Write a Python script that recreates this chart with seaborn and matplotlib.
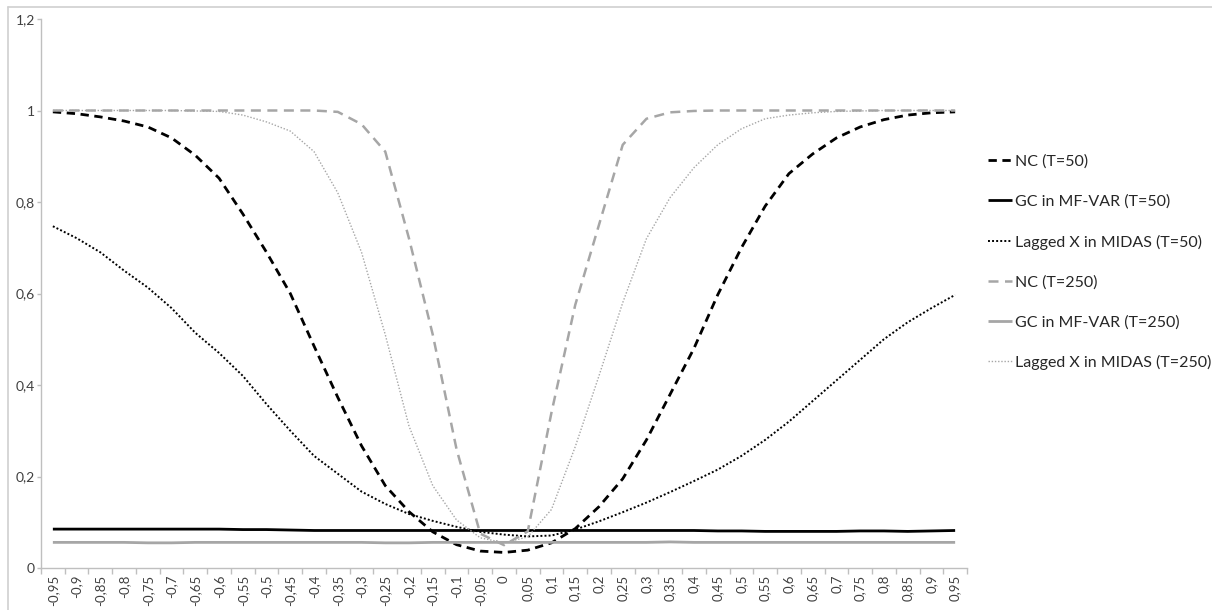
import numpy as np
import pandas as pd
import matplotlib
matplotlib.use('Agg')
from matplotlib import pyplot as plt
from matplotlib.lines import Line2D
from matplotlib.ticker import FixedLocator
import seaborn as sns

# Valeurs de rho (axe des x)
rho = [-0.95, -0.9, -0.85, -0.8, -0.75, -0.7, -0.65, -0.6, -0.55, -0.5,
       -0.45, -0.4, -0.35, -0.3, -0.25, -0.2, -0.15, -0.1, -0.05, 0.0,
       0.05, 0.1, 0.15, 0.2, 0.25, 0.3, 0.35, 0.4, 0.45, 0.5,
       0.55, 0.6, 0.65, 0.7, 0.75, 0.8, 0.85, 0.9, 0.95]

# Séries
nc_50 = [0.997, 0.993, 0.986, 0.977, 0.964, 0.94, 0.902, 0.852, 0.774, 0.69,
         0.60, 0.485, 0.373, 0.267, 0.18, 0.123, 0.079, 0.051, 0.037, 0.034,
         0.039, 0.055, 0.086, 0.134, 0.195, 0.28, 0.38, 0.48, 0.597, 0.70,
         0.791, 0.862, 0.905, 0.94, 0.964, 0.98, 0.99, 0.995, 0.997]
gc_50 = [0.085, 0.085, 0.085, 0.085, 0.085, 0.085, 0.085, 0.085, 0.084, 0.084,
         0.083, 0.082, 0.082, 0.082, 0.082, 0.082, 0.082, 0.082, 0.082, 0.082,
         0.082, 0.082, 0.082, 0.082, 0.082, 0.082, 0.082, 0.082, 0.081, 0.081,
         0.080, 0.080, 0.080, 0.080, 0.081, 0.081, 0.080, 0.081, 0.082]
midas_50 = [0.747, 0.721, 0.69, 0.65, 0.613, 0.568, 0.514, 0.47, 0.42, 0.358,
            0.30, 0.245, 0.206, 0.167, 0.14, 0.118, 0.103, 0.09, 0.079, 0.073,
            0.069, 0.071, 0.084, 0.102, 0.122, 0.143, 0.166, 0.19, 0.215, 0.245,
            0.28, 0.32, 0.365, 0.41, 0.455, 0.50, 0.537, 0.568, 0.597]
nc_250 = [1.0, 1.0, 1.0, 1.0, 1.0, 1.0, 1.0, 1.0, 1.0, 1.0,
          1.0, 1.0, 0.997, 0.97, 0.91, 0.72, 0.51, 0.26, 0.075, 0.05,
          0.08, 0.34, 0.575, 0.75, 0.925, 0.982, 0.996, 0.999, 1.0, 1.0,
          1.0, 1.0, 1.0, 1.0, 1.0, 1.0, 1.0, 1.0, 1.0]
gc_250 = [0.056, 0.056, 0.056, 0.056, 0.055, 0.055, 0.056, 0.056, 0.056, 0.056,
          0.056, 0.056, 0.056, 0.056, 0.055, 0.055, 0.056, 0.056, 0.056, 0.056,
          0.056, 0.056, 0.056, 0.056, 0.056, 0.056, 0.057, 0.056, 0.056, 0.056,
          0.056, 0.056, 0.056, 0.056, 0.056, 0.056, 0.056, 0.056, 0.056]
midas_250 = [1.0, 1.0, 1.0, 1.0, 1.0, 1.0, 0.999, 0.998, 0.99, 0.975,
             0.955, 0.91, 0.82, 0.69, 0.51, 0.31, 0.18, 0.105, 0.066, 0.055,
             0.068, 0.128, 0.265, 0.42, 0.58, 0.72, 0.81, 0.875, 0.925, 0.96,
             0.982, 0.99, 0.995, 0.998, 0.999, 1.0, 1.0, 1.0, 1.0]

labels = ['NC (T=50)', 'GC in MF-VAR (T=50)', 'Lagged X in MIDAS (T=50)',
          'NC (T=250)', 'GC in MF-VAR (T=250)', 'Lagged X in MIDAS (T=250)']

df = pd.DataFrame({'rho': rho,
                   labels[0]: nc_50, labels[1]: gc_50, labels[2]: midas_50,
                   labels[3]: nc_250, labels[4]: gc_250, labels[5]: midas_250})

# Styles des courbes (couleur, épaisseur, tirets)
gris = '#a6a6a6'
styles = {
    labels[0]: dict(color='black', lw=2.0, dashes=(3, 2)),
    labels[1]: dict(color='black', lw=2.0, dashes=None),
    labels[2]: dict(color='black', lw=1.4, dashes=(1, 1.1)),
    labels[3]: dict(color=gris, lw=1.8, dashes=(4, 2.6)),
    labels[4]: dict(color=gris, lw=2.0, dashes=None),
    labels[5]: dict(color=gris, lw=1.0, dashes=(1, 1.3)),
}

sns.set_style('white')
plt.rcParams['font.family'] = ['Lato', 'DejaVu Sans']

fig = plt.figure(figsize=(12.12, 6.10), dpi=100)
ax = fig.add_axes([41 / 1212, 1 - 568 / 610, (967 - 41) / 1212, (568 - 19) / 610])

for lab in labels:
    st = styles[lab]
    sns.lineplot(data=df, x='rho', y=lab, ax=ax, color=st['color'],
                 linewidth=st['lw'], label=lab)
    line = ax.lines[-1]
    if st['dashes'] is not None:
        line.set_dashes(st['dashes'])
    line.set_solid_capstyle('butt')
    line.set_dash_capstyle('butt')

# Axes
ax.set_xlim(-0.975, 0.975)
ax.set_ylim(0, 1.2)
ax.set_xlabel('')
ax.set_ylabel('')

def fmt(v):
    s = f'{v:g}'
    if s == '-0':
        s = '0'
    return s.replace('.', ',')

ax.set_xticks(rho)
ax.set_xticklabels([fmt(v) for v in rho], rotation=90, fontsize=9.5, color='#404040')
bords = [r - 0.025 for r in rho] + [rho[-1] + 0.025]
ax.xaxis.set_minor_locator(FixedLocator(bords))
ax.tick_params(axis='x', which='major', length=0, pad=5)
ax.tick_params(axis='x', which='minor', length=4.5, width=1, color='#bfbfbf', bottom=True)

yt = [0, 0.2, 0.4, 0.6, 0.8, 1.0, 1.2]
ax.set_yticks(yt)
ax.set_yticklabels([fmt(v) for v in yt], fontsize=10, color='#404040')
ax.tick_params(axis='y', which='major', length=3, width=1, color='#bfbfbf', left=True, pad=1.5)

for s in ['top', 'right']:
    ax.spines[s].set_visible(False)
for s in ['left', 'bottom']:
    ax.spines[s].set_color('#bfbfbf')
    ax.spines[s].set_linewidth(1)
ax.grid(False)

# Légende
leg = ax.legend(loc='center left', bbox_to_anchor=(0.809, 0.57),
                bbox_transform=fig.transFigure, frameon=False, fontsize=11.5,
                handlelength=1.5, handletextpad=0.15, labelspacing=1.6,
                borderpad=0)
for t in leg.get_texts():
    t.set_color('#262626')

# Bordure de la zone de graphique
fig.add_artist(Line2D([8 / 1212, 1], [1 - 7 / 610, 1 - 7 / 610], color='#d0d0d0', lw=1.2))
fig.add_artist(Line2D([8 / 1212, 8 / 1212], [0, 1 - 7 / 610], color='#d0d0d0', lw=1.2))

fig.savefig('out.png', dpi=100)
